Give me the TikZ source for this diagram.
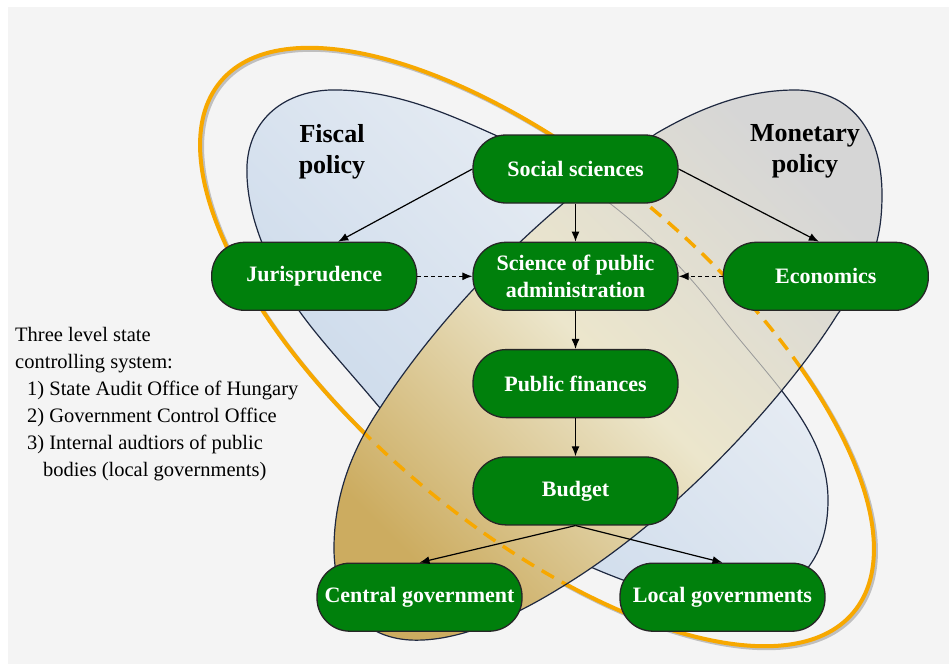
\documentclass[tikz,border=0pt]{standalone}
\usepackage{fontspec}
\setmainfont{Liberation Serif}
\usetikzlibrary{positioning,calc,arrows.meta}
\definecolor{boxgreen}{RGB}{0,128,12}
\definecolor{bggrey}{RGB}{244,244,244}
\definecolor{ringorange}{RGB}{247,168,0}
\definecolor{edgeblue}{RGB}{30,40,64}
\definecolor{fiscalA}{RGB}{198,214,233}
\definecolor{fiscalB}{RGB}{239,242,246}
\definecolor{monA}{RGB}{204,172,96}
\definecolor{monB}{RGB}{236,230,204}
\definecolor{monC}{RGB}{214,214,214}
\tikzset{block/.style={draw=black!85,line width=1.3pt,fill=boxgreen,text=white,rounded corners=33pt,
           minimum width=205pt,minimum height=68pt,inner sep=2pt,align=center,
           font=\fontsize{22}{27}\selectfont\bfseries},
         line/.style={-{Latex[length=10pt,width=8pt]},line width=1.2pt},
         title/.style={font=\fontsize{26}{31}\selectfont\bfseries,align=center,anchor=north,inner sep=0pt}
}
\tikzstyle{dashline} = [line,dash pattern=on 4pt off 3pt]
\tikzstyle{ring} = [ringorange,line width=4pt]
\def\fiscaledge{(495,135) .. controls (580,172) and (660,235) .. (720,315)
  .. controls (770,380) and (828,430) .. (828,500)}
\def\fiscalpath{(300,312) .. controls (270,270) and (245,215) .. (247,165)
  .. controls (250,115) and (290,88) .. (340,90) .. controls (400,92) and (450,115) .. \fiscaledge
  .. controls (828,545) and (810,580) .. (770,595) .. controls (720,612) and (660,595) .. (610,575)
  .. controls (520,540) and (430,470) .. (380,408) .. controls (350,372) and (320,340) .. (300,312) -- cycle}
\def\monetarypath{(380,408) .. controls (440,315) and (540,210) .. (657,133)
  .. controls (705,105) and (750,90) .. (795,90) .. controls (850,90) and (882,130) .. (882,195)
  .. controls (882,250) and (866,275) .. (837,315) .. controls (792,388) and (680,516) .. (560,588)
  .. controls (500,625) and (450,642) .. (410,640) .. controls (360,637) and (333,600) .. (334,545)
  .. controls (335,490) and (355,445) .. (380,408) -- cycle}

\begin{document}
\begin{tikzpicture}[x=1pt,y=-1pt]
\useasboundingbox (0,0) rectangle (949,664);
\fill[bggrey] (8,7) rectangle (949,664);

\shade[top color=fiscalB,bottom color=fiscalA,shading angle=-45] \fiscalpath;
\draw[edgeblue,line width=1.2pt] \fiscalpath;
\draw[black!25,line width=4pt] (539,349) ellipse [x radius=413,y radius=180,rotate=-40];
\draw[ring] (537,347) ellipse [x radius=413,y radius=180,rotate=-40];
\shade[top color=monC,bottom color=monA,middle color=monB,shading angle=-45] \monetarypath;
\begin{scope}
\clip \monetarypath;
\draw[black!40,line width=0.8pt] \fiscaledge;
\draw[ring,line width=3.5pt,dash pattern=on 14pt off 9pt] (537,347) ellipse [x radius=413,y radius=180,rotate=-40];
\end{scope}
\draw[edgeblue,line width=1.2pt] \monetarypath;

\node[title] (fiscal) at (332,124) {Fiscal\\policy};
\node[title] (monetary) at (805,124) {Monetary\\policy};
\node[anchor=north west,align=left,inner sep=0pt,font=\fontsize{20.5}{27}\selectfont] (levels) at (15,327)
  {Three level state\\controlling system:\\\hspace*{12pt}1) State Audit Office of Hungary\\
   \hspace*{12pt}2) Government Control Office\\\hspace*{12pt}3) Internal audtiors of public\\
   \hspace*{28pt}bodies (local governments)};

\node[block] (social) at (575.5,169) {Social sciences};
\node[block,below=38pt of social] (spa) {Science of public\\administration};
\node[block,below=38pt of spa] (pubfin) {Public finances};
\node[block,below=38pt of pubfin] (budget) {Budget};
\node[block,left=55pt of spa] (jur) {Jurisprudence};
\node[block,right=44pt of spa] (econ) {Economics};
\node[block,below=37pt of budget,xshift=-156pt] (central) {Central government};
\node[block,below=37pt of budget,xshift=147pt] (local) {Local governments};
\draw[line] (social) -- (spa);
\draw[line] (spa) -- (pubfin);
\draw[line] (pubfin) -- (budget);
\draw[line] (social.west) -- ([xshift=24pt]jur.north);
\draw[line] (social.east) -- ([xshift=-7pt]econ.north);
\draw[dashline] (jur) -- (spa);
\draw[dashline] (econ) -- (spa);
\draw[line] (budget.south) -- (central.north);
\draw[line] (budget.south) -- (local.north);

\end{tikzpicture}
\end{document}
